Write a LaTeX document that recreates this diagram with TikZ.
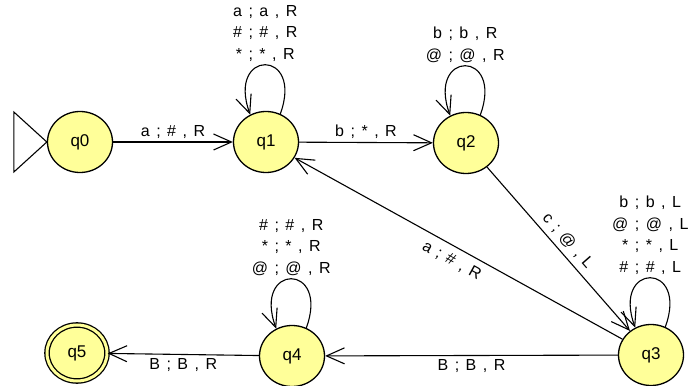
\documentclass[tikz,border=0pt]{standalone}
\usepackage{fontspec}
\setmainfont{Liberation Sans}
\usetikzlibrary{arrows.meta, shapes.geometric}

\definecolor{statefill}{RGB}{255,255,153}
\newcommand{\lblfont}{\fontsize{16}{21.5}\selectfont\spaceskip=6.5pt\relax}

\tikzset{
    tmstate/.style={ellipse, draw, line width=1.3pt, fill=statefill, minimum width=65pt, minimum height=61pt, inner sep=0pt, font=\fontsize{17}{19}\selectfont},
    lbl/.style={font=\lblfont, inner sep=3pt, align=center}
}

\begin{document}
\begin{tikzpicture}[x=1pt, y=1pt, line width=1.1pt, >={Straight Barb[length=18pt, width=16pt]}]
    \useasboundingbox (0,0) rectangle (692,385);

    % States
    \node[tmstate] (q0) at (80,243) {q0};
    \node[tmstate] (q1) at (266,243) {q1};
    \node[tmstate] (q2) at (466,242) {q2};
    \node[tmstate] (q3) at (651,30) {q3};
    \node[tmstate] (q4) at (292,29) {q4};
    \node[tmstate, double=statefill, double distance=3pt, minimum width=60pt, minimum height=56pt] (q5) at (77,32) {q5};

    % Start marker
    \draw (q0.west) -- ++(-33,30) -- ++(0,-60) -- cycle;

    % Transitions
    \draw[->] (q0) -- node[lbl, above] {a ; \# , R} (q1);
    \draw[->] (q1) -- node[lbl, above] {b ; * , R} (q2);
    \draw[->] (q2) -- node[lbl, sloped, above, inner sep=5pt] {c ; @ , L} (q3);
    \draw[->] (q3) -- node[lbl, sloped, below, inner sep=7pt] {a ; \# , R} (q1);
    \draw[->] (q3) -- node[lbl, below] {B ; B , R} (q4);
    \draw[->] (q4) -- node[lbl, below] {B ; B , R} (q5);

    % Loops
    \draw[->] (q1.63) .. controls +(70:70) and +(110:70) .. node[lbl, above] {a ; a , R\\\# ; \# , R\\* ; * , R} (q1.120);
    \draw[->] (q2.63) .. controls +(70:70) and +(110:70) .. node[lbl, above] {b ; b , R\\@ ; @ , R} (q2.120);
    \draw[->] (q3.63) .. controls +(70:70) and +(110:70) .. node[lbl, above] {b ; b , L\\@ ; @ , L\\* ; * , L\\\# ; \# , L} (q3.120);
    \draw[->] (q4.63) .. controls +(70:70) and +(110:70) .. node[lbl, above] {\# ; \# , R\\* ; * , R\\@ ; @ , R} (q4.120);

\end{tikzpicture}
\end{document}
